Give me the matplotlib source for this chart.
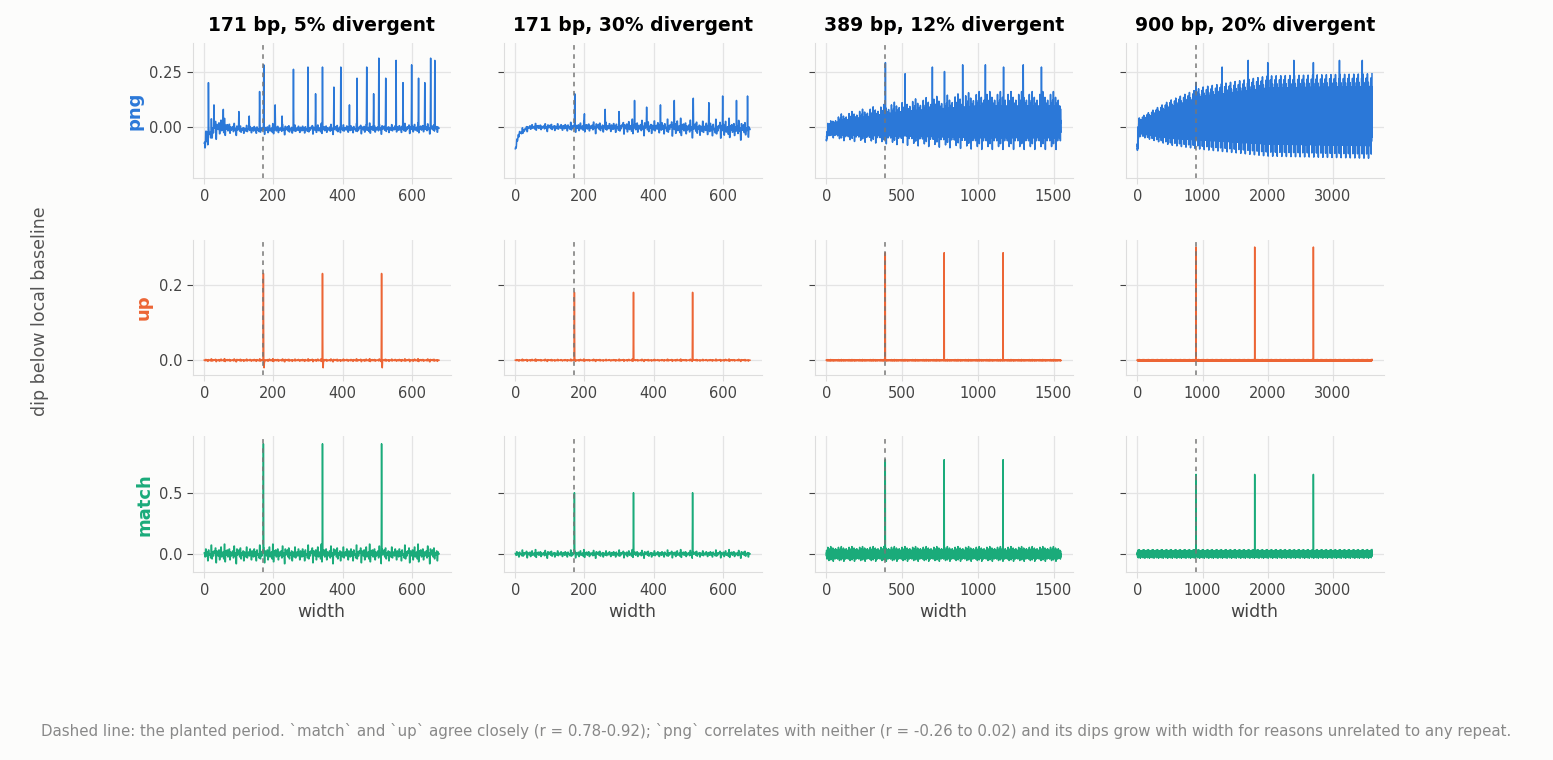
import numpy as np
import matplotlib
matplotlib.use("Agg")
import matplotlib.pyplot as plt

BG = "#fcfcfb"
COLORS = {"png": "#2b78d8", "up": "#ec6535", "match": "#1aab7a"}

titles = ["171 bp, 5% divergent", "171 bp, 30% divergent",
          "389 bp, 12% divergent", "900 bp, 20% divergent"]
periods = [171, 171, 389, 900]
widths = [680, 680, 1550, 3600]

# hand-read irregular wiggle shape (unit amplitude), repeated along each trace
wiggle = [0.1, -0.3, 0.5, -0.2, 0.2, -0.7, 0.4, -0.1, 0.0, -0.4,
          0.9, -0.5, 0.2, -0.2, 0.3, 0.1, 0.6, -0.9, 0.3, -0.1,
          -0.2, 0.4, -0.6, 0.1, 0.7, -0.3, 0.0, 0.2, -0.5, 1.0,
          -0.8, 0.3, -0.1, 0.4, -0.3, 0.1, 0.5, -0.6, 0.2, -0.2,
          0.0, 0.3, -0.4, 0.8, -0.2, 0.1, -1.0, 0.5, -0.1, 0.2,
          0.4, -0.3, 0.6, -0.5, 0.1, -0.1, 0.3, -0.7, 0.2, 0.0,
          -0.3, 0.7, -0.4, 0.1, 0.2, -0.2, 0.5, -0.1, -0.6, 0.3]
hold = [2, 2, 1, 1]   # samples per wiggle value in each column

# png: envelope (x, mid, half-amplitude) and peaks (x, height)
png_env = [
    ([0, 10, 40, 100, 680], [-0.08, -0.03, 0.0, -0.01, -0.005], [0.08, 0.07, 0.05, 0.025, 0.025]),
    ([0, 10, 40, 100, 400, 680], [-0.1, -0.03, 0.0, 0.0, 0.0, -0.01], [0.03, 0.02, 0.015, 0.02, 0.04, 0.05]),
    ([0, 10, 100, 500, 1000, 1550], [-0.06, -0.01, 0.0, 0.02, 0.03, 0.03], [0.02, 0.03, 0.06, 0.1, 0.13, 0.13]),
    ([0, 20, 500, 1000, 2000, 3600], [-0.1, 0.0, 0.02, 0.04, 0.05, 0.05], [0.03, 0.04, 0.1, 0.14, 0.18, 0.19]),
]
png_peaks = [
    [(12, 0.2), (28, 0.1), (55, 0.08), (100, 0.07), (130, 0.05), (160, 0.16), (172, 0.28),
     (205, 0.1), (225, 0.05), (258, 0.26), (300, 0.27), (322, 0.15), (342, 0.27), (375, 0.18),
     (395, 0.27), (420, 0.1), (442, 0.22), (470, 0.27), (490, 0.15), (505, 0.31), (525, 0.22),
     (555, 0.3), (575, 0.2), (600, 0.28), (620, 0.22), (638, 0.2), (655, 0.31), (667, 0.3)],
    [(172, 0.15), (200, 0.06), (260, 0.08), (300, 0.07), (345, 0.12), (380, 0.09), (420, 0.1),
     (460, 0.12), (515, 0.13), (560, 0.11), (600, 0.14), (640, 0.12), (672, 0.14)],
    [(390, 0.29), (520, 0.24), (700, 0.27), (780, 0.25), (900, 0.28), (1050, 0.28), (1170, 0.27),
     (1300, 0.28), (1420, 0.27)],
    [(900, 0.2), (1300, 0.27), (1700, 0.3), (2000, 0.29), (2400, 0.3), (2700, 0.29), (3100, 0.3), (3450, 0.3)],
]
up_heights = [0.23, 0.18, 0.285, 0.30]
up_noise = [0.004, 0.003, 0.002, 0.002]
match_heights = [0.9, 0.5, 0.77, 0.65]
match_noise = [0.08, 0.035, 0.06, 0.035]

row_ylim = {"png": (-0.23, 0.38), "up": (-0.04, 0.32), "match": (-0.15, 0.96)}
row_ticks = {"png": [0, 0.25], "up": [0, 0.2], "match": [0, 0.5]}
row_fmt = {"png": "{:.2f}", "up": "{:.1f}", "match": "{:.1f}"}


def shape(n, c):
    return np.resize(np.repeat(np.array(wiggle), hold[c]), n)


def make_png(i):
    n = widths[i]
    x = np.arange(n)
    ex, mid, amp = png_env[i]
    y = np.interp(x, ex, mid) + np.interp(x, ex, amp) * shape(n, i)
    for px, h in png_peaks[i]:
        y[min(px, n - 1)] = h
    return x, y


def make_spiky(i, heights, noise, dip=0.0):
    n = widths[i]
    x = np.arange(n)
    y = noise[i] * shape(n, i)
    for k in (1, 2, 3):
        p = periods[i] * k
        y[p] = heights[i]
        if dip:
            y[p + 2] = -dip
    return x, y


plt.rcParams["font.family"] = "DejaVu Sans"
fig, axes = plt.subplots(3, 4, figsize=(15.53, 7.6), dpi=100, facecolor=BG)
fig.subplots_adjust(left=0.124, right=0.891, top=0.944, bottom=0.247, wspace=0.205, hspace=0.45)

rows = ["png", "up", "match"]
for r, name in enumerate(rows):
    for c in range(4):
        ax = axes[r, c]
        ax.set_facecolor(BG)
        if name == "png":
            x, y = make_png(c)
        elif name == "up":
            x, y = make_spiky(c, up_heights, up_noise, dip=0.02 if c == 0 else 0.0)
        else:
            x, y = make_spiky(c, match_heights, match_noise)
        ax.plot(x, y, color=COLORS[name], lw=1.1)
        ax.axvline(periods[c], color="#777777", ls=(0, (3, 3)), lw=1.1)
        ax.set_ylim(*row_ylim[name])
        ax.set_yticks(row_ticks[name])
        if c == 0:
            ax.set_yticklabels([row_fmt[name].format(t) for t in row_ticks[name]])
            ax.set_ylabel(name, color=COLORS[name], fontsize=13, fontweight="bold")
        else:
            ax.set_yticklabels([])
        ax.grid(True, color="#e4e4e4", lw=0.9)
        ax.set_axisbelow(True)
        for s in ("top", "right"):
            ax.spines[s].set_visible(False)
        for s in ("left", "bottom"):
            ax.spines[s].set_color("#dddddd")
        ax.tick_params(colors="#444444", labelsize=10.5, length=4)
        ax.tick_params(axis="x", color="#dddddd")
        if r == 0:
            ax.set_title(titles[c], fontsize=13.5, fontweight="bold", pad=8)
        if r == 2:
            ax.set_xlabel("width", fontsize=12.5, color="#444444")

fig.text(0.026, 0.59, "dip below local baseline", rotation=90, va="center", ha="center",
         fontsize=12.5, color="#555555")
fig.text(0.5, 0.032, "Dashed line: the planted period. `match` and `up` agree closely (r = 0.78-0.92); "
         "`png` correlates with neither (r = -0.26 to 0.02) and its dips grow with width for reasons "
         "unrelated to any repeat.", ha="center", fontsize=10.8, color="#888888")

fig.savefig("out.png", dpi=100, facecolor=BG)
